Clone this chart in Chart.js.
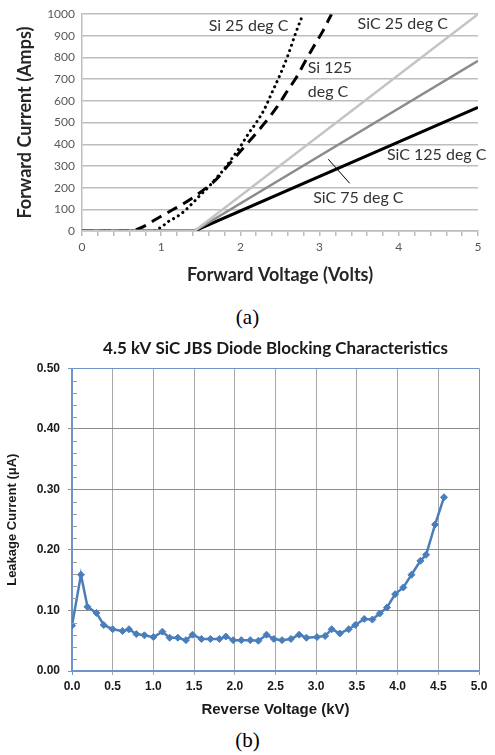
<!DOCTYPE html>
<html>
<head>
<meta charset="utf-8">
<script src="https://cdn.jsdelivr.net/npm/chart.js@4.4.1/dist/chart.umd.min.js"></script>
<style>
  body { margin: 0; background: #fff; width: 495px; height: 755px; position: relative; overflow: hidden; }
  .box { position: absolute; left: 0; }
  .cap { position: absolute; left: 0; width: 495px; text-align: center; font: 21px 'Liberation Serif', serif; line-height: 24px; color: #000; }
</style>
</head>
<body>
<div class="box" style="top:0"><canvas id="fwd" width="495" height="295"></canvas></div>
<div class="cap" style="top:305px">(a)</div>
<div class="box" style="top:330px"><canvas id="leak" width="495" height="390"></canvas></div>
<div class="cap" style="top:728px">(b)</div>
<script>
// (a) forward characteristics, volts / amps
const si25Volts = [0, 0.9, 1.0, 1.1, 1.2, 1.3, 1.4, 1.5, 1.6, 1.7, 1.8, 1.9, 2.0, 2.1, 2.2, 2.3, 2.4, 2.5, 2.6, 2.7, 2.79];
const si25Amps  = [0, 0, 18, 46, 66, 94, 130, 168, 204, 246, 288, 338, 390, 448, 500, 560, 640, 720, 810, 915, 1000];

const si125Volts = [0, 0.6, 0.7, 0.8, 0.9, 1.0, 1.15, 1.3, 1.5, 1.7, 1.85, 2.0, 2.15, 2.3, 2.46, 2.6, 2.71, 2.8, 2.92, 3.03, 3.15];
const si125Amps  = [0, 0, 8, 25, 47, 68, 99, 130, 180, 240, 305, 368, 430, 495, 571, 650, 710, 770, 848, 915, 1000];

const sicVolts    = [0, 1.42, 5];
const sic25Amps   = [0, 0, 1000];
const sic75Amps   = [0, 0, 785];
const sic125Amps  = [0, 0, 570];

const leaderVolts = [3.11, 3.38];
const leaderAmps  = [331, 220];

const curveLabels = ['Si 25 deg C', 'SiC 25 deg C', 'Si 125', 'deg C', 'SiC 125 deg C', 'SiC 75 deg C'];
const labelVolts  = [1.6, 3.48, 2.85, 2.85, 3.85, 2.92];
const labelAmps   = [945, 954, 751, 640, 349, 151];

const fwdTicksX = [0, 1, 2, 3, 4, 5];

// (b) blocking characteristics, kV / uA
const revKV = [0, 0.11, 0.19, 0.30, 0.39, 0.50, 0.62, 0.70, 0.79, 0.89, 1.0, 1.11, 1.2, 1.30, 1.40, 1.48, 1.59, 1.70, 1.81, 1.89,
  1.98, 2.08, 2.19, 2.29, 2.39, 2.48, 2.58, 2.69, 2.79, 2.88, 3.01, 3.11, 3.19, 3.29, 3.40, 3.48, 3.59, 3.69, 3.78, 3.87,
  3.97, 4.07, 4.17, 4.28, 4.35, 4.46, 4.57];
const leakUA = [0.075, 0.159, 0.106, 0.096, 0.076, 0.069, 0.066, 0.069, 0.061, 0.059, 0.056, 0.065, 0.055, 0.055, 0.051, 0.060, 0.053, 0.053, 0.053, 0.057,
  0.051, 0.051, 0.051, 0.050, 0.060, 0.053, 0.051, 0.053, 0.060, 0.055, 0.056, 0.058, 0.069, 0.062, 0.069, 0.076, 0.086, 0.085, 0.095, 0.105,
  0.127, 0.138, 0.159, 0.182, 0.192, 0.242, 0.287];
const leakMinorTicks = [0.02, 0.04, 0.06, 0.08, 0.12, 0.14, 0.16, 0.18, 0.22, 0.24, 0.26, 0.28, 0.32, 0.34, 0.36, 0.38, 0.42, 0.44, 0.46, 0.48];

const zip = (xs, ys) => xs.map((x, i) => ({ x, y: ys[i] }));
const isWhole = v => Math.abs(v - Math.round(v)) < 1e-6;

Chart.defaults.font.family = 'Lato, sans-serif';
Chart.defaults.animation = false;

const curveLabelPlugin = {
  id: 'curveLabels',
  afterDatasetsDraw(chart) {
    const { ctx, scales: { x, y } } = chart;
    ctx.save();
    ctx.font = '16px Lato';
    ctx.fillStyle = '#333';
    ctx.textAlign = 'left';
    ctx.textBaseline = 'middle';
    curveLabels.forEach((t, i) => {
      ctx.fillText(t, x.getPixelForValue(labelVolts[i]), y.getPixelForValue(labelAmps[i]));
    });
    ctx.restore();
  }
};

const line = (data, color, width, extra) => Object.assign({
  data, showLine: true, borderColor: color, borderWidth: width, pointRadius: 0, fill: false
}, extra || {});

new Chart(document.getElementById('fwd'), {
  type: 'scatter',
  data: {
    datasets: [
      line(zip(sicVolts, sic25Amps), '#c4c4c4', 2.5),
      line(zip(sicVolts, sic75Amps), '#8c8c8c', 2.5),
      line(zip(sicVolts, sic125Amps), '#000', 3),
      line(zip(si25Volts, si25Amps), '#000', 3, { borderDash: [0.1, 5.5], borderCapStyle: 'round', cubicInterpolationMode: 'monotone' }),
      line(zip(si125Volts, si125Amps), '#000', 3, { borderDash: [11, 7], cubicInterpolationMode: 'monotone' }),
      line(zip(leaderVolts, leaderAmps), '#000', 1),
    ]
  },
  options: {
    responsive: false,
    devicePixelRatio: 1,
    layout: { padding: { top: 14, right: 17, left: 0, bottom: 0 } },
    plugins: { legend: { display: false }, tooltip: { enabled: false } },
    scales: {
      x: {
        type: 'linear', min: 0, max: 5,
        afterFit: s => { s.height = 64; },
        ticks: {
          stepSize: 0.2, autoSkip: false, maxRotation: 0, padding: 4,
          color: '#595959', font: { size: 12 },
          callback: v => isWhole(v) && fwdTicksX.includes(Math.round(v)) ? String(Math.round(v)) : ''
        },
        grid: { drawOnChartArea: false, tickLength: 5, color: '#bdbdbd', lineWidth: 1.5 },
        border: { color: '#bdbdbd', width: 1.5 },
        title: { display: true, text: 'Forward Voltage (Volts)', color: '#262626', font: { size: 18, weight: 'bold' }, padding: { top: 0, bottom: 9 } }
      },
      y: {
        min: 0, max: 1000,
        afterFit: s => { s.width = 82; },
        ticks: { stepSize: 100, padding: 7, color: '#595959', font: { size: 12 }, callback: v => String(v) },
        grid: { drawTicks: false, color: '#bdbdbd', lineWidth: 1.5 },
        border: { color: '#bdbdbd', width: 1.5 },
        title: { display: true, text: 'Forward Current (Amps)', color: '#262626', font: { size: 18, weight: 'bold' }, padding: { top: 14, bottom: 0 } }
      }
    }
  },
  plugins: [curveLabelPlugin]
});

const blue = '#6f93cb';
const minorTickPlugin = {
  id: 'minorTicks',
  afterDatasetsDraw(chart) {
    const { ctx, scales: { y }, chartArea } = chart;
    ctx.save();
    ctx.strokeStyle = '#9a9a9a';
    ctx.lineWidth = 1;
    leakMinorTicks.forEach(v => {
      const py = Math.round(y.getPixelForValue(v)) + 0.5;
      ctx.beginPath();
      ctx.moveTo(chartArea.left, py);
      ctx.lineTo(chartArea.left + 5, py);
      ctx.stroke();
    });
    ctx.restore();
  }
};

const arial = 'Liberation Sans, Arial, sans-serif';
new Chart(document.getElementById('leak'), {
  type: 'scatter',
  data: {
    datasets: [{
      data: zip(revKV, leakUA),
      showLine: true,
      borderColor: '#4a7ebb',
      backgroundColor: '#4a7ebb',
      borderWidth: 2.5,
      pointStyle: 'rectRot',
      pointRadius: 3.5,
      pointBorderWidth: 1,
      fill: false
    }]
  },
  options: {
    responsive: false,
    devicePixelRatio: 1,
    layout: { padding: { top: 0, right: 16, left: 0, bottom: 0 } },
    plugins: {
      legend: { display: false }, tooltip: { enabled: false },
      title: {
        display: true, fullSize: false, text: '4.5 kV SiC JBS Diode Blocking Characteristics',
        color: '#1a1a1a', font: { size: 17, weight: 'bold' }, padding: { top: 8, bottom: 10 }
      }
    },
    scales: {
      x: {
        type: 'linear', min: 0, max: 5,
        afterFit: s => { s.height = 49; },
        ticks: { stepSize: 0.5, maxRotation: 0, padding: 4, color: '#1a1a1a', font: { family: arial, size: 12, weight: 'bold' }, callback: v => v.toFixed(1) },
        grid: { color: c => (c.tick && (c.tick.value === 0 || c.tick.value === 5)) ? blue : '#a8a8a8', tickLength: 4 },
        border: { color: blue, width: 1.5 },
        title: { display: true, text: 'Reverse Voltage (kV)', color: '#1a1a1a', font: { family: arial, size: 15, weight: 'bold' }, padding: { top: 0, bottom: 1 } }
      },
      y: {
        min: 0, max: 0.5,
        afterFit: s => { s.width = 72; },
        ticks: { stepSize: 0.1, padding: 8, color: '#1a1a1a', font: { family: arial, size: 12, weight: 'bold' }, callback: v => v.toFixed(2) },
        grid: { color: c => (c.tick && Math.abs(c.tick.value - 0.5) < 1e-6) ? blue : '#8c8c8c', tickLength: 4 },
        border: { color: blue, width: 1.5 },
        title: { display: true, text: 'Leakage Current (μA)', color: '#1a1a1a', font: { family: arial, size: 13, weight: 'bold' }, padding: { top: 5, bottom: 0 } }
      }
    }
  },
  plugins: [minorTickPlugin]
});
</script>
</body>
</html>
